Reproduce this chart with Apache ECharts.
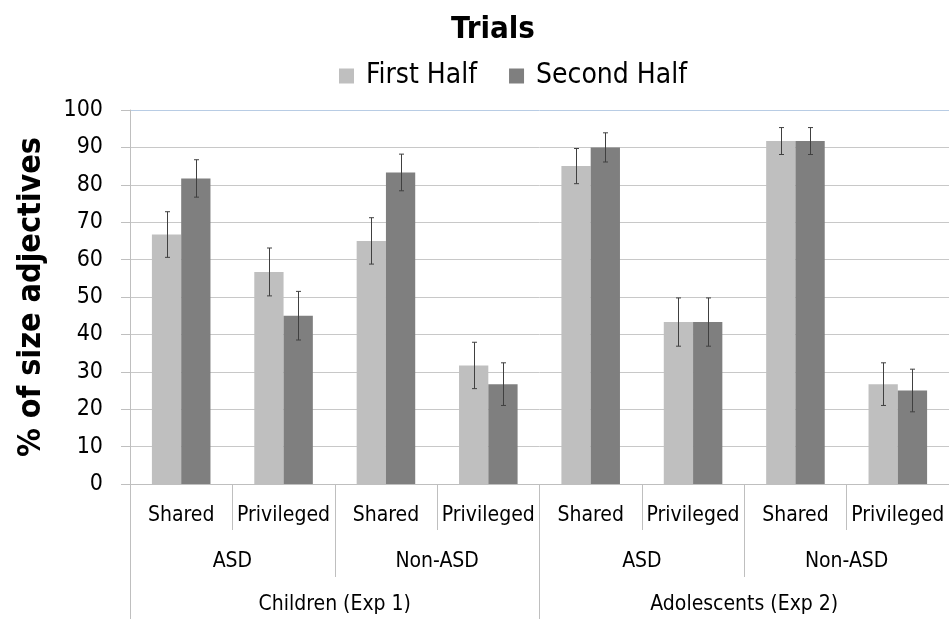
<!DOCTYPE html>
<html>
<head>
<meta charset="utf-8">
<script src="https://cdn.jsdelivr.net/npm/echarts@6/dist/echarts.min.js"></script>
<style>
  html, body { margin: 0; padding: 0; background: #fff; }
  #chart { width: 949px; height: 619px; }
</style>
</head>
<body>
<div id="chart"></div>
<script>
// categories, three levels
const conditions = ['Shared', 'Privileged', 'Shared', 'Privileged', 'Shared', 'Privileged', 'Shared', 'Privileged'];
const groups = ['ASD', 'Non-ASD', 'ASD', 'Non-ASD'];
const experiments = ['Children (Exp 1)', 'Adolescents (Exp 2)'];

// series values (% of size adjectives)
const firstHalf = [66.7, 56.7, 65, 31.7, 85, 43.3, 91.7, 26.7];
const secondHalf = [81.7, 45, 83.3, 26.7, 90, 43.3, 91.7, 25];

// error bar half-widths
const firstHalfErr = [6.1, 6.4, 6.2, 6.2, 4.7, 6.45, 3.6, 5.7];
const secondHalfErr = [5.0, 6.5, 4.9, 5.7, 3.9, 6.45, 3.6, 5.7];

const yTicks = [0, 10, 20, 30, 40, 50, 60, 70, 80, 90, 100];

const FONT = '"Liberation Sans Narrow", "DejaVu Sans Condensed", "Open Sans", sans-serif';
const BAR_RATIO = 0.286;

const chart = echarts.init(document.getElementById('chart'));

function errorSeries(values, errs, side) {
  return {
    type: 'custom',
    xAxisIndex: 0,
    z: 10,
    silent: true,
    data: values.map((v, i) => [i, v - errs[i], v + errs[i]]),
    renderItem: function (params, api) {
      const idx = api.value(0);
      const lo = api.coord([idx, api.value(1)]);
      const hi = api.coord([idx, api.value(2)]);
      const bandW = api.size([1, 0])[0];
      const x = Math.round(lo[0] + side * bandW * BAR_RATIO / 2) + 0.5;
      const cap = 2.5;
      const style = { stroke: '#404040', lineWidth: 1 };
      return {
        type: 'group',
        children: [
          { type: 'line', shape: { x1: x, y1: lo[1], x2: x, y2: hi[1] }, style: style },
          { type: 'line', shape: { x1: x - cap, y1: lo[1], x2: x + cap, y2: lo[1] }, style: style },
          { type: 'line', shape: { x1: x - cap, y1: hi[1], x2: x + cap, y2: hi[1] }, style: style }
        ]
      };
    }
  };
}

const gridColors = yTicks.map((t, i) => i === yTicks.length - 1 ? '#b8cce4' : '#c8c8c8');

const option = {
  backgroundColor: '#fff',
  animation: false,
  textStyle: { fontFamily: FONT, color: '#000' },
  title: {
    text: 'Trials',
    left: 488,
    textAlign: 'center',
    top: 9,
    textStyle: { fontFamily: FONT, fontSize: 31, fontWeight: 'bold', color: '#000' }
  },
  legend: {
    top: 57,
    left: 334,
    data: ['First Half', 'Second Half'],
    icon: 'rect',
    itemWidth: 15,
    itemHeight: 15,
    itemGap: 32,
    textStyle: { fontFamily: FONT, fontSize: 28, color: '#000', padding: [0, 0, 0, 7] }
  },
  grid: { left: 130, right: -1, top: 110, bottom: 135 },
  xAxis: [
    {
      type: 'category',
      data: conditions,
      position: 'bottom',
      axisLine: { show: true, lineStyle: { color: '#bfbfbf' } },
      axisTick: { show: true, length: 46, interval: 0, lineStyle: { color: '#bfbfbf' } },
      axisLabel: { interval: 0, fontSize: 21, margin: 21, color: '#000', fontFamily: FONT },
      splitLine: { show: false }
    },
    {
      type: 'category',
      data: groups,
      position: 'bottom',
      offset: 46,
      axisLine: { show: false },
      axisTick: { show: true, length: 47, interval: 0, lineStyle: { color: '#bfbfbf' } },
      axisLabel: { interval: 0, fontSize: 21, margin: 21, color: '#000', fontFamily: FONT },
      splitLine: { show: false }
    },
    {
      type: 'category',
      data: experiments,
      position: 'bottom',
      offset: 93,
      axisLine: { show: false },
      axisTick: { show: true, length: 50, interval: 0, lineStyle: { color: '#bfbfbf' } },
      axisLabel: { interval: 0, fontSize: 21, margin: 17, color: '#000', fontFamily: FONT },
      splitLine: { show: false }
    }
  ],
  yAxis: {
    type: 'value',
    min: 0,
    max: 100,
    interval: 10,
    name: '% of size adjectives',
    nameLocation: 'middle',
    nameGap: 82,
    nameTextStyle: { fontFamily: FONT, fontSize: 32, fontWeight: 'bold', color: '#000' },
    axisLine: { show: true, lineStyle: { color: '#bfbfbf' } },
    axisTick: { show: true, inside: false, length: 9, lineStyle: { color: '#bfbfbf' } },
    axisLabel: { fontSize: 23, margin: 27, color: '#000', fontFamily: FONT },
    splitLine: { show: true, lineStyle: { color: gridColors } }
  },
  series: [
    {
      name: 'First Half',
      type: 'bar',
      xAxisIndex: 0,
      data: firstHalf,
      barWidth: (BAR_RATIO * 100) + '%',
      barGap: '0%',
      itemStyle: { color: '#bfbfbf' }
    },
    {
      name: 'Second Half',
      type: 'bar',
      xAxisIndex: 0,
      data: secondHalf,
      barWidth: (BAR_RATIO * 100) + '%',
      barGap: '0%',
      itemStyle: { color: '#7f7f7f' }
    },
    errorSeries(firstHalf, firstHalfErr, -1),
    errorSeries(secondHalf, secondHalfErr, 1)
  ]
};

chart.setOption(option);
</script>
</body>
</html>
